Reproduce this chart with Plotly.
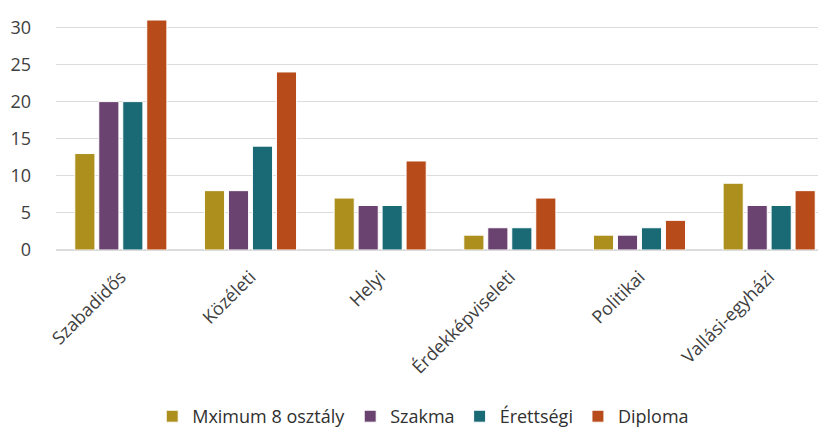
import plotly.graph_objects as go

categories = ["Szabadidős", "Közéleti", "Helyi", "Érdekképviseleti", "Politikai", "Vallási-egyházi"]
series_names = ["Mximum 8 osztály", "Szakma", "Érettségi", "Diploma"]
max8 = [13, 8, 7, 2, 2, 9]
szakma = [20, 8, 6, 3, 2, 6]
erettsegi = [20, 14, 6, 3, 3, 6]
diploma = [31, 24, 12, 7, 4, 8]
colors = ["#ac8f1c", "#6b4370", "#1a6a75", "#b74c1a"]

fig = go.Figure()
for name, vals, col in zip(series_names, [max8, szakma, erettsegi, diploma], colors):
    fig.add_trace(go.Bar(x=categories, y=vals, name=name,
                         marker=dict(color=col, line=dict(color="white", width=1))))

fig.update_layout(
    width=826, height=427,
    margin=dict(l=48, r=0, t=12, b=178),
    paper_bgcolor="white", plot_bgcolor="white",
    barmode="group", bargap=0.26, bargroupgap=0.16,
    font=dict(family="Open Sans", color="#404040"),
    legend=dict(orientation="h", x=0.472, xanchor="center", y=-0.726, yanchor="middle",
                font=dict(size=18, color="#303030"), itemwidth=30, traceorder="normal"),
    showlegend=True,
)
fig.update_yaxes(range=[0, 31], tickvals=[0, 5, 10, 15, 20, 25, 30], showgrid=True,
                 gridcolor="#dcdcdc", gridwidth=1, zeroline=True, zerolinecolor="#dcdcdc",
                 tickfont=dict(size=18, color="#404040"), ticks="", showline=False,
                 automargin=False, ticklabelstandoff=24)
fig.update_xaxes(tickangle=-45, tickfont=dict(size=18, color="#404040"), showline=False,
                 ticks="", automargin=False, ticklabelstandoff=12)

fig.write_html("out.html")
